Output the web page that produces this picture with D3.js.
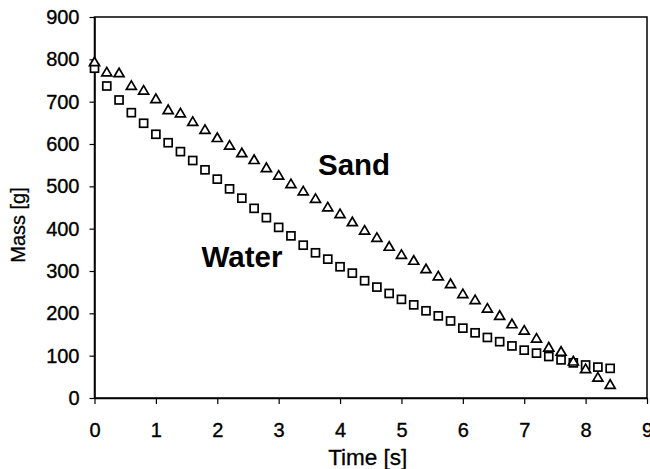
<!DOCTYPE html>
<html>
<head>
<meta charset="utf-8">
<script src="https://cdn.jsdelivr.net/npm/d3@7"></script>
<style>
  html, body { margin: 0; padding: 0; background: #fff; }
  svg { display: block; }
  text { font-family: "Liberation Sans", Arial, Helvetica, sans-serif; fill: #000; }
</style>
</head>
<body>
<svg id="chart" width="650" height="469"></svg>
<script>
// Sampling times in seconds
const time = [0, 0.2, 0.4, 0.6, 0.8, 1.0, 1.2, 1.4, 1.6, 1.8,
              2.0, 2.2, 2.4, 2.6, 2.8, 3.0, 3.2, 3.4, 3.6, 3.8,
              4.0, 4.2, 4.4, 4.6, 4.8, 5.0, 5.2, 5.4, 5.6, 5.8,
              6.0, 6.2, 6.4, 6.6, 6.8, 7.0, 7.2, 7.4, 7.6, 7.8,
              8.0, 8.2, 8.4];

// Remaining mass of sand [g]
const sandMass = [795, 771, 769, 739, 728, 708, 682, 674, 654, 635,
                  616, 598, 580, 564, 545, 527, 507, 490, 472, 452,
                  436, 417, 397, 380, 359, 340, 326, 306, 289, 271,
                  247, 233, 213, 196, 176, 161, 142, 121, 111, 88,
                  70, 50, 33];

// Remaining mass of water [g]
const waterMass = [779, 737, 704, 674, 649, 623, 603, 582, 561, 539,
                   517, 494, 472, 448, 426, 403, 383, 361, 343, 328,
                   310, 295, 277, 262, 247, 233, 220, 206, 194, 182,
                   165, 154, 143, 133, 123, 113, 106, 98, 90, 83,
                   78, 73, 70];

const xTicks = [0, 1, 2, 3, 4, 5, 6, 7, 8, 9];
const yTicks = [0, 100, 200, 300, 400, 500, 600, 700, 800, 900];

const svg = d3.select("#chart");
const W = 650, H = 469;
const margin = { top: 17, right: 3, bottom: 71, left: 94.5 };

const x = d3.scaleLinear().domain([0, 9]).range([margin.left, W - margin.right]);
const y = d3.scaleLinear().domain([0, 900]).range([H - margin.bottom, margin.top]);

// Plot frame
svg.append("rect")
  .attr("x", x(0)).attr("y", y(900))
  .attr("width", x(9) - x(0)).attr("height", y(0) - y(900))
  .attr("fill", "none").attr("stroke", "#000").attr("stroke-width", 1.5);

// Axes
const yAxis = svg.append("g")
  .attr("transform", `translate(${x(0)},0)`)
  .call(d3.axisLeft(y).tickValues(yTicks).tickSizeInner(5).tickSizeOuter(0).tickPadding(10));
const xAxis = svg.append("g")
  .attr("transform", `translate(0,${y(0)})`)
  .call(d3.axisBottom(x).tickValues(xTicks).tickSizeInner(6).tickSizeOuter(0).tickPadding(19));

[yAxis, xAxis].forEach(g => {
  g.select(".domain").attr("stroke", "#000").attr("stroke-width", 1.5);
  g.selectAll(".tick line").attr("stroke", "#000").attr("stroke-width", 1.2);
  g.selectAll(".tick text")
    .attr("font-family", "Liberation Sans, Arial, sans-serif")
    .attr("font-size", 20).attr("fill", "#000")
    .attr("stroke", "#000").attr("stroke-width", 0.35);
});

// Axis titles
svg.append("text")
  .attr("x", x(4.5) - 3).attr("y", 465)
  .attr("text-anchor", "middle").attr("font-size", 22.5)
  .attr("stroke", "#000").attr("stroke-width", 0.3)
  .text("Time [s]");
svg.append("text")
  .attr("transform", "translate(25,225) rotate(-90)")
  .attr("text-anchor", "middle").attr("font-size", 20)
  .attr("stroke", "#000").attr("stroke-width", 0.3)
  .text("Mass [g]");

// Water: open squares
const sq = 8;
svg.append("g").selectAll("rect")
  .data(time.map((t, i) => [t, waterMass[i]]))
  .join("rect")
  .attr("x", d => x(d[0]) - sq / 2)
  .attr("y", d => y(d[1]) - sq / 2)
  .attr("width", sq).attr("height", sq)
  .attr("fill", "#fff").attr("stroke", "#000").attr("stroke-width", 1.7);

// Sand: open triangles
const tw = 10, th = 8.5;
svg.append("g").selectAll("path")
  .data(time.map((t, i) => [t, sandMass[i]]))
  .join("path")
  .attr("transform", d => `translate(${x(d[0])},${y(d[1])})`)
  .attr("d", `M0,${-th / 2}L${tw / 2},${th / 2}L${-tw / 2},${th / 2}Z`)
  .attr("fill", "#fff").attr("stroke", "#000").attr("stroke-width", 1.7)
  .attr("stroke-linejoin", "miter");

// Series labels
svg.append("text")
  .attr("x", 318).attr("y", 175)
  .attr("font-size", 29.5).attr("font-weight", "bold")
  .text("Sand");
svg.append("text")
  .attr("x", 201.5).attr("y", 266.5)
  .attr("font-size", 29.5).attr("font-weight", "bold")
  .text("Water");
</script>
</body>
</html>
